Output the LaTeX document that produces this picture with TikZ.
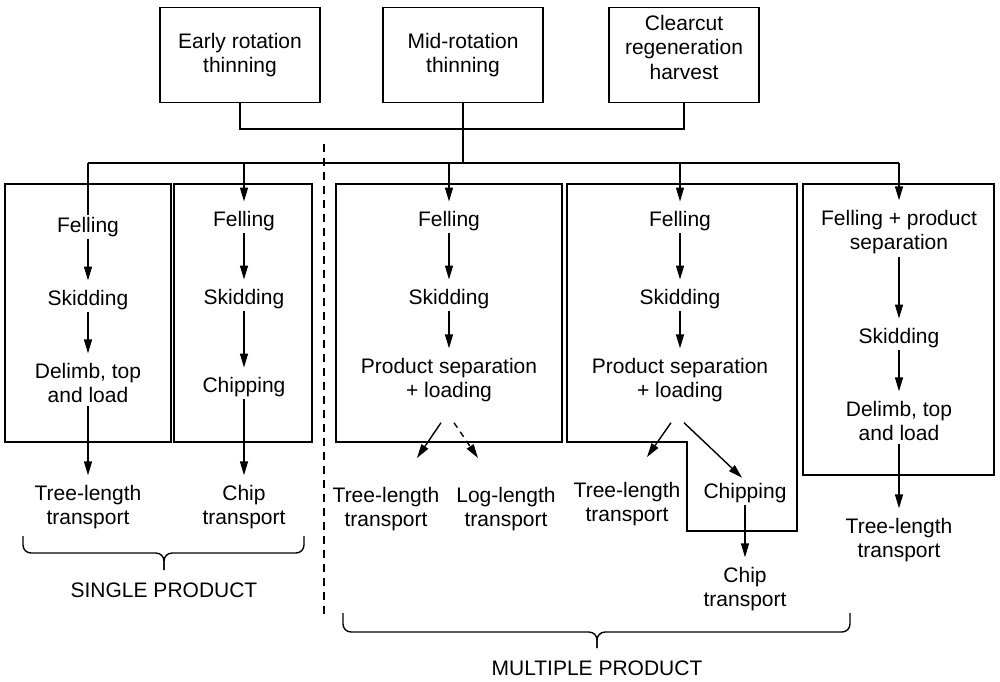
\documentclass[tikz,border=0pt]{standalone}
\usepackage{fontspec}
\setmainfont{Liberation Sans}
\usetikzlibrary{arrows.meta,calc}
\begin{document}
\begin{tikzpicture}[x=0.5pt,y=-0.5pt,
  line width=0.7pt,
  txt/.style={align=center,font=\fontsize{10.5}{12.2}\selectfont,inner sep=1pt},
  topbox/.style={txt,draw,minimum height=47.5pt,inner sep=3pt},
  arr/.style={-{Triangle[length=7pt,width=4pt]}},
  flow/.style={arr,shorten >=3.5pt},
  dashedarr/.style={arr,dash pattern=on 3pt off 2.5pt},
  brace/.style={rounded corners=4pt},
  divider/.style={dash pattern=on 4pt off 3pt}]
\useasboundingbox (0,0) rectangle (1000,681);

% harvest types
\node[topbox,minimum width=80pt] (early) at (240,55) {Early rotation\\thinning};
\node[topbox,minimum width=80pt] (mid)   at (463,55) {Mid-rotation\\thinning};
\node[topbox,minimum width=75pt,text depth=8pt] (clear) at (684,55) {Clearcut\\regeneration\\harvest};

\coordinate (join) at (463,129);
\coordinate (hub)  at (463,163);
\draw (early.south) |- (join) -| (clear.south);
\draw (mid.south) -- (hub);

% distribution bar
\coordinate (drop1) at (88,163);
\coordinate (drop2) at (244,163);
\coordinate (drop3) at (449,163);
\coordinate (drop4) at (680,163);
\coordinate (drop5) at (899,163);
\draw (drop1) -- (drop5);

% single / multiple product divider
\coordinate (divtop) at (324,144);
\coordinate (divbot) at (324,617);
\draw[divider] (divtop) -- (divbot);

% system frames
\draw (5,184) rectangle (171,442);
\draw (174,184) rectangle (312,442);
\draw (336,184) rectangle (562,442);
\draw (567,184) -- (567,442) -- (687,442) -- (687,531) -- (797,531) -- (797,184) -- cycle;
\draw (803,184) rectangle (994,475);

% system 1
\node[txt] (f1) at (88,227) {Felling};
\node[txt] (s1) at (88,300) {Skidding};
\node[txt] (d1) at (88,383) {Delimb, top\\and load};
\node[txt] (t1) at (88,507) {Tree-length\\transport};
\draw (drop1) -- (f1.north);
\draw[flow] (f1) -- (s1);
\draw[flow] (s1) -- (d1);
\draw[flow] (d1) -- (t1);

% system 2
\node[txt] (f2) at (244,221) {Felling};
\node[txt] (s2) at (244,299) {Skidding};
\node[txt] (c2) at (244,387) {Chipping};
\node[txt] (t2) at (244,507) {Chip\\transport};
\draw[flow] (drop2) -- (f2);
\draw[flow] (f2) -- (s2);
\draw[flow] (s2) -- (c2);
\draw[flow] (c2) -- (t2);

% system 3
\node[txt] (f3) at (449,221) {Felling};
\node[txt] (s3) at (449,299) {Skidding};
\node[txt] (p3) at (449,380) {Product separation\\+ loading};
\node[txt] (tl3) at (386,509) {Tree-length\\transport};
\node[txt] (ll3) at (506,509) {Log-length\\transport};
\coordinate (tl3in) at (417,458);
\coordinate (ll3in) at (478,458);
\draw[flow] (drop3) -- (f3);
\draw[flow] (f3) -- (s3);
\draw[flow] (s3) -- (p3);
\draw[arr] ($(p3.south)+(-8,18)$) -- (tl3in);
\draw[dashedarr] ($(p3.south)+(5,18)$) -- (ll3in);

% system 4
\node[txt] (f4) at (680,221) {Felling};
\node[txt] (s4) at (680,299) {Skidding};
\node[txt] (p4) at (680,380) {Product separation\\+ loading};
\node[txt] (tl4) at (627,504) {Tree-length\\transport};
\node[txt] (c4) at (745,493) {Chipping};
\node[txt] (ct4) at (745,589) {Chip\\transport};
\coordinate (tl4in) at (647,457);
\draw[flow] (drop4) -- (f4);
\draw[flow] (f4) -- (s4);
\draw[flow] (s4) -- (p4);
\draw[arr] ($(p4.south)+(-9,18)$) -- (tl4in);
\draw[arr,shorten >=2pt] ($(p4.south)+(4,18)$) -- (c4.north);
\draw[flow] (c4) -- (ct4);

% system 5
\node[txt] (f5) at (899,232) {Felling + product\\separation};
\node[txt] (s5) at (899,338) {Skidding};
\node[txt] (d5) at (899,421) {Delimb, top\\and load};
\node[txt] (t5) at (899,540) {Tree-length\\transport};
\draw[flow] (drop5) -- (f5);
\draw[flow] (f5) -- (s5);
\draw[flow] (s5) -- (d5);
\draw[flow] (d5) -- (t5);

% groupings
\draw[brace] (23,536) -- (23,553) -- (164,553) -- (164,570);
\draw[brace] (304,536) -- (304,553) -- (164,553) -- (164,570);
\node[txt] (single) at (164,590) {SINGLE PRODUCT};
\draw[brace] (343,613) -- (343,632) -- (597,632) -- (597,648);
\draw[brace] (850,613) -- (850,632) -- (597,632) -- (597,648);
\node[txt] (multi) at (597,668) {MULTIPLE PRODUCT};
\end{tikzpicture}
\end{document}
